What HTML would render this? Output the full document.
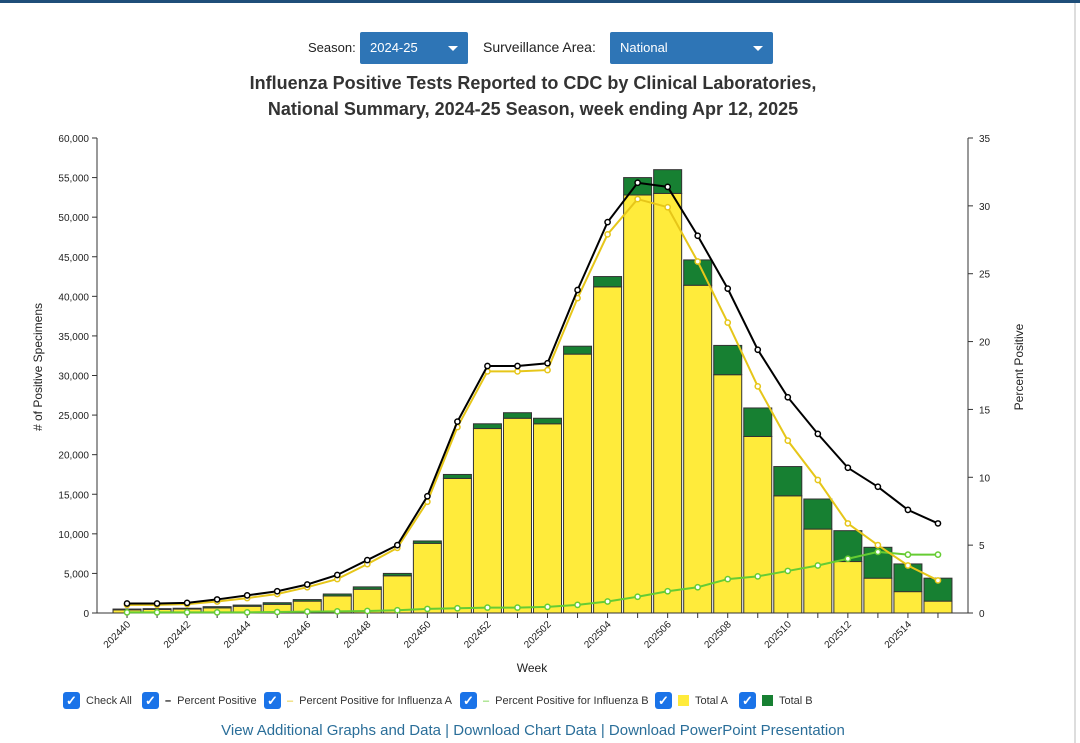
<!DOCTYPE html>
<html><head><meta charset="utf-8"><style>
body{margin:0;width:1080px;height:743px;background:#fff;font-family:"Liberation Sans",sans-serif;overflow:hidden;position:relative}
.topbar{position:absolute;left:0;top:0;width:1080px;height:3px;background:#1f4e79}
.frame{position:absolute;left:0;top:3px;width:1074px;height:740px;border-right:2px solid #ddd}
.sel{position:absolute;height:32px;background:#2e75b6;color:#fff;font-size:13px;line-height:32px;padding-left:10px;box-sizing:border-box;border-radius:2px}
.sel:after{content:"";position:absolute;right:10px;top:14px;border:5px solid transparent;border-top:5px solid #fff}
.lbl{position:absolute;font-size:13px;color:#222}
.title{position:absolute;left:0;width:1066px;text-align:center;font-weight:bold;font-size:18px;color:#333;line-height:26px}
.leg{position:absolute;top:692px;font-size:11px;color:#333;display:flex;align-items:center}
.cb{width:17px;height:17px;background:#1a73e8;border-radius:3px;margin-right:6px;color:#fff;font-size:13px;line-height:17px;text-align:center;font-weight:bold}
.links{position:absolute;top:722px;left:0;width:1066px;text-align:center;font-size:15px;color:#2a6e99}
</style></head><body>
<div class="topbar"></div>
<div class="frame"></div>
<div class="lbl" style="left:308px;top:40px">Season:</div>
<div class="sel" style="left:360px;top:32px;width:108px">2024-25</div>
<div class="lbl" style="left:483px;top:39px;font-size:14px">Surveillance Area:</div>
<div class="sel" style="left:610px;top:32px;width:163px">National</div>
<div class="title" style="top:70px">Influenza Positive Tests Reported to CDC by Clinical Laboratories,<br>National Summary, 2024-25 Season, week ending Apr 12, 2025</div>
<svg id="chart" width="1080" height="743" style="position:absolute;left:0;top:0"></svg>
<div class="leg" style="left:63px"><div class="cb">✓</div>Check All</div>
<div class="leg" style="left:142px"><div class="cb">✓</div><span style="color:#000;font-weight:bold;margin-right:6px">–</span>Percent Positive</div>
<div class="leg" style="left:264px"><div class="cb">✓</div><span style="color:#e6c619;margin-right:6px">–</span>Percent Positive for Influenza A</div>
<div class="leg" style="left:460px"><div class="cb">✓</div><span style="color:#66cc33;margin-right:6px">–</span>Percent Positive for Influenza B</div>
<div class="leg" style="left:655px"><div class="cb">✓</div><span style="display:inline-block;width:11px;height:11px;background:#ffeb3b;margin-right:6px"></span>Total A</div>
<div class="leg" style="left:739px"><div class="cb">✓</div><span style="display:inline-block;width:11px;height:11px;background:#178032;margin-right:6px"></span>Total B</div>
<div class="links"><span>View Additional Graphs and Data</span> | <span>Download Chart Data</span> | <span>Download PowerPoint Presentation</span></div>
<script>
const weeks=["202440","202441","202442","202443","202444","202445","202446","202447","202448","202449","202450","202451","202452","202453","202502","202503","202504","202505","202506","202507","202508","202509","202510","202511","202512","202513","202514","202515"];
const totalA=[400,450,500,650,850,1100,1500,2150,3000,4700,8800,17000,23300,24600,23900,32700,41200,52800,53000,41400,30100,22300,14800,10600,6500,4400,2700,1500];
const totalB=[100,100,100,150,150,200,200,250,300,300,300,500,600,700,700,1000,1300,2200,3000,3200,3700,3600,3700,3800,3900,3900,3500,2900];
const pctAll=[0.7,0.7,0.75,1.0,1.3,1.6,2.1,2.8,3.9,5.0,8.6,14.1,18.2,18.2,18.4,23.8,28.8,31.7,31.4,27.8,23.9,19.4,15.9,13.2,10.7,9.3,7.6,6.6];
const pctA=[0.6,0.6,0.65,0.85,1.1,1.4,1.9,2.5,3.6,4.8,8.2,13.7,17.8,17.8,17.9,23.2,27.9,30.5,29.9,25.9,21.4,16.7,12.7,9.8,6.6,5.0,3.5,2.4];
const pctB=[0.05,0.05,0.05,0.05,0.05,0.07,0.1,0.12,0.15,0.2,0.3,0.35,0.4,0.4,0.45,0.6,0.85,1.2,1.6,1.9,2.5,2.7,3.1,3.5,4.0,4.5,4.3,4.3];
const leftTicks=[0,5000,10000,15000,20000,25000,30000,35000,40000,45000,50000,55000,60000];
const rightTicks=[0,5,10,15,20,25,30,35];

const svg=document.getElementById('chart');const NS='http://www.w3.org/2000/svg';
const L=97,R=968,T=138,B=613;
const step=(R-L)/29;
const x=i=>L+step*(i+1);
const yL=v=>B-(v/60000)*(B-T);
const yR=v=>B-(v/35)*(B-T);
function mk(t,a,p){const e=document.createElementNS(NS,t);for(const k in a)e.setAttribute(k,a[k]);(p||svg).appendChild(e);return e;}
let e=mk('line',{x1:L,y1:T,x2:L,y2:B,stroke:'#333'});
e=mk('line',{x1:R,y1:T,x2:R,y2:B,stroke:'#333'});
e=mk('line',{x1:L,y1:B,x2:R,y2:B,stroke:'#333'});
leftTicks.forEach(v=>{mk('line',{x1:L-5,y1:yL(v),x2:L,y2:yL(v),stroke:'#333'});
e=mk('text',{x:L-8,y:yL(v)+4,'text-anchor':'end','font-size':10,fill:'#222'});e.textContent=v.toLocaleString('en-US');
});
rightTicks.forEach(v=>{mk('line',{x1:R,y1:yR(v),x2:R+5,y2:yR(v),stroke:'#333'});
e=mk('text',{x:R+11,y:yR(v)+4,'font-size':10,fill:'#222'});e.textContent=v;
});
weeks.forEach((w,i)=>{mk('line',{x1:x(i),y1:B,x2:x(i),y2:B+5,stroke:'#333'});
if(i%2==0){e=mk('text',{'font-size':10,fill:'#222','text-anchor':'end',transform:`translate(${x(i)+4},${B+12}) rotate(-45)`});e.textContent=w;
}});
e=mk('text',{x:532,y:672,'text-anchor':'middle','font-size':12,fill:'#222'});e.textContent='Week';
e=mk('text',{'font-size':12,fill:'#222','text-anchor':'middle',transform:'translate(42,367) rotate(-90)'});e.textContent='# of Positive Specimens';
e=mk('text',{'font-size':12,fill:'#222','text-anchor':'middle',transform:'translate(1023,367) rotate(-90)'});e.textContent='Percent Positive';
const bw=28;
weeks.forEach((w,i)=>{
 e=mk('rect',{x:x(i)-bw/2,y:yL(totalA[i]),width:bw,height:B-yL(totalA[i]),fill:'#ffeb3b',stroke:'#333','stroke-width':1});
 
 e=mk('rect',{x:x(i)-bw/2,y:yL(totalA[i]+totalB[i]),width:bw,height:yL(totalA[i])-yL(totalA[i]+totalB[i]),fill:'#178032',stroke:'#333','stroke-width':1});
 
});
function line(arr,col,name){
 e=mk('polyline',{points:arr.map((v,i)=>x(i)+','+yR(v)).join(' '),fill:'none',stroke:col,'stroke-width':2});
 
 arr.forEach((v,i)=>{e=mk('circle',{cx:x(i),cy:yR(v),r:2.6,fill:'#fff',stroke:col,'stroke-width':1.5});
 });
}
line(pctB,'#66cc33','percent-b');
line(pctA,'#e6c619','percent-a');
line(pctAll,'#000','percent-positive');
</script>
</body></html>
